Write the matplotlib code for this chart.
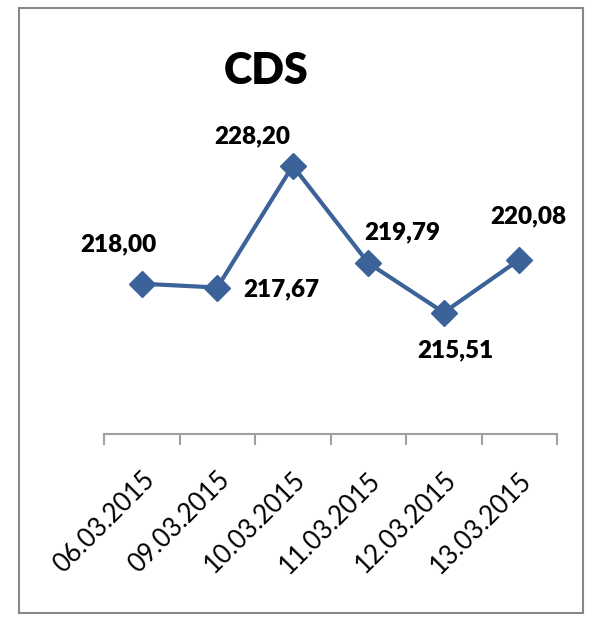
import numpy as np
import matplotlib.pyplot as plt
from matplotlib.patches import Rectangle

# data
dates = ["06.03.2015", "09.03.2015", "10.03.2015", "11.03.2015", "12.03.2015", "13.03.2015"]
cds = [218.00, 217.67, 228.20, 219.79, 215.51, 220.08]
labels = ["218,00", "217,67", "228,20", "219,79", "215,51", "220,08"]
# label offsets in pixels (dx, dy)
offsets = [(-23, 39), (64, -2), (-41, 29), (34, 31), (12, -38), (9, 43)]

plt.rcParams['font.family'] = ['Lato', 'DejaVu Sans']

fig = plt.figure(figsize=(6.02, 6.17), dpi=100)
ax = fig.add_axes([0.1728, 0.2966, 0.7525, 0.4684])

color = '#3B6399'
x = np.arange(len(dates))
ax.plot(x, cds, color=color, lw=3, marker='D', ms=13, zorder=3)

for xi, yi, lab, (dx, dy) in zip(x, cds, labels, offsets):
    ax.annotate(lab, (xi, yi), xytext=(dx, dy), textcoords='offset pixels',
                ha='center', va='center', fontsize=17.5, fontweight='heavy')

ax.set_xlim(-0.5, len(dates) - 0.5)
ax.set_ylim(205, 230)

for s in ['top', 'right', 'left']:
    ax.spines[s].set_visible(False)
ax.spines['bottom'].set_color('#A0A0A0')
ax.spines['bottom'].set_linewidth(1.5)
ax.set_yticks([])

ax.set_xticks(x)
ax.set_xticklabels(dates, rotation=45, ha='right', va='top', rotation_mode='anchor', fontsize=18.5)
ax.tick_params(axis='x', which='major', length=0, pad=24)
ax.set_xticks(np.arange(-0.5, len(dates), 1), minor=True)
ax.tick_params(axis='x', which='minor', length=8, width=1.5, color='#A0A0A0')

fig.text(0.442, 0.885, "CDS", ha='center', va='center', fontsize=31, fontweight='heavy')

fig.patches.append(Rectangle((19 / 602, 1 - 613 / 617), 564 / 602, 605 / 617,
                             transform=fig.transFigure, fill=False,
                             edgecolor='#888888', lw=1.5))

fig.savefig('out.png', dpi=100)
